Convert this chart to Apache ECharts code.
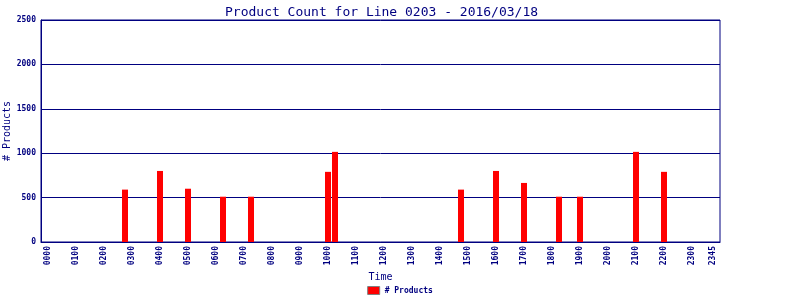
<!DOCTYPE html>
<html>
<head>
<meta charset="utf-8">
<script src="https://cdn.jsdelivr.net/npm/echarts@6/dist/echarts.min.js"></script>
<style>html,body{margin:0;padding:0;background:#fff}#c{width:800px;height:300px}</style>
</head>
<body>
<div id="c"></div>
<script>
// 15-minute time slots 0000..2345 (with an empty slot at each end of the axis)
const hours = ['00','01','02','03','04','05','06','07','08','09','10','11','12','13','14','15','16','17','18','19','20','21','22','23'];
const quarters = ['00','15','30','45'];
const slots = [];
hours.forEach(h => quarters.forEach(q => slots.push(h + q)));
const categories = [' '].concat(slots, ['  ']);

// Tick labels shown under the axis
const xTickLabels = ['0000','0100','0200','0300','0400','0500','0600','0700','0800','0900','1000','1100',
                     '1200','1300','1400','1500','1600','1700','1800','1900','2000','2100','2200','2300','2345'];

// Non-zero bars
const barTimes  = ['0245','0400','0500','0615','0715','1000','1015','1445','1600','1700','1815','1900','2100','2200'];
const barValues = [590, 800, 600, 510, 510, 790, 1015, 590, 800, 665, 510, 510, 1015, 790];

const yTicks = [0, 500, 1000, 1500, 2000, 2500];

const seriesData = categories.map(c => {
  const i = barTimes.indexOf(c);
  return i >= 0 ? barValues[i] : (slots.indexOf(c) >= 0 ? 0 : '-');
});

const navy = '#000080';
const chart = echarts.init(document.getElementById('c'), null, {renderer: 'canvas'});
chart.setOption({
  animation: false,
  backgroundColor: '#ffffff',
  title: {
    text: 'Product Count for Line 0203 - 2016/03/18',
    left: 220,
    top: 1,
    textStyle: {fontFamily: 'DejaVu Sans Mono', fontSize: 13, fontWeight: 'normal', color: navy}
  },
  legend: {
    bottom: 0,
    left: 'center',
    itemWidth: 12,
    itemHeight: 8,
    itemGap: 4,
    data: [{name: '# Products', icon: 'rect', itemStyle: {color: '#ff0000', borderColor: '#808080', borderWidth: 1}}],
    textStyle: {fontFamily: 'DejaVu Sans Mono', fontSize: 8, fontWeight: 'bold', color: navy}
  },
  grid: {
    left: 41, right: 80, top: 20, bottom: 58,
    containLabel: false,
    outerBoundsMode: 'none',
    show: true, borderColor: navy, borderWidth: 1, backgroundColor: 'transparent'
  },
  xAxis: {
    type: 'category',
    data: categories,
    boundaryGap: false,
    name: 'Time',
    nameLocation: 'middle',
    nameGap: 30,
    nameMoveOverlap: false,
    nameTextStyle: {fontFamily: 'DejaVu Sans Mono', fontSize: 10, color: navy},
    axisLine: {lineStyle: {color: navy, width: 1}},
    axisTick: {show: false},
    axisLabel: {
      show: true,
      rotate: 90,
      margin: 4,
      hideOverlap: false,
      interval: (idx, val) => xTickLabels.indexOf(val) >= 0,
      fontFamily: 'DejaVu Sans Mono', fontSize: 8, fontWeight: 'bold', color: navy
    },
    splitLine: {show: false}
  },
  yAxis: {
    type: 'value',
    min: yTicks[0],
    max: yTicks[yTicks.length - 1],
    interval: 500,
    name: '# Products',
    nameLocation: 'middle',
    nameGap: 29,
    nameMoveOverlap: false,
    nameTextStyle: {fontFamily: 'DejaVu Sans Mono', fontSize: 10, color: navy},
    axisLine: {show: true, lineStyle: {color: navy, width: 1}},
    axisTick: {show: false},
    splitLine: {show: true, lineStyle: {color: navy, width: 1, type: 'solid'}},
    axisLabel: {margin: 5, formatter: (v) => String(v), fontFamily: 'DejaVu Sans Mono', fontSize: 8, fontWeight: 'bold', color: navy}
  },
  series: [{
    name: '# Products',
    type: 'bar',
    data: seriesData,
    barWidth: 6,
    itemStyle: {color: '#ff0000'}
  }]
});
</script>
</body>
</html>
